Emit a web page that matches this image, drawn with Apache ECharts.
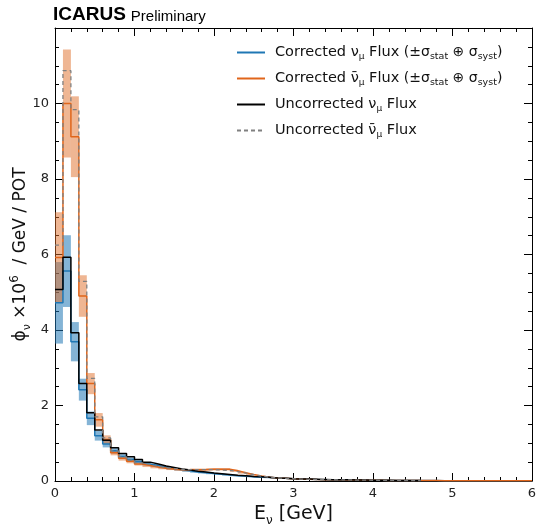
<!DOCTYPE html>
<html><head><meta charset="utf-8">
<script src="https://cdn.jsdelivr.net/npm/echarts@6/dist/echarts.min.js"></script>
<style>html,body{margin:0;padding:0;background:#fff}#c{width:537px;height:524px}</style>
</head><body><div id="c"></div>
<script>
// Binning: 0.1 GeV wide bins starting at 0
const binLow = 0;
const binWidth = 0.1;
const xTickLabels = ['0', '1', '2', '3', '4', '5', '6'];
const yTickLabels = ['0', '2', '4', '6', '8', '10'];

// Corrected nu_mu flux (x1e6 / GeV / POT) and its uncertainty
const corrNu = [4.72, 5.56, 3.69, 2.42, 1.66, 1.20, 0.98, 0.80, 0.65, 0.57,
  0.51, 0.45, 0.41, 0.37, 0.33, 0.30, 0.27, 0.24, 0.22, 0.20,
  0.18, 0.16, 0.14, 0.13, 0.11, 0.10, 0.09, 0.08, 0.07, 0.06,
  0.05, 0.045, 0.04, 0.036, 0.033, 0.03, 0.027, 0.025, 0.022, 0.02,
  0.018, 0.016, 0.015, 0.013, 0.012, 0.011, 0.01, 0.01, 0.009, 0.009,
  0.008, 0.008, 0.007, 0.007, 0.006, 0.006, 0.006, 0.005, 0.005, 0.005];
const corrNuErr = [1.08, 0.95, 0.52, 0.29, 0.18, 0.13, 0.09, 0.07, 0.06, 0.05,
  0.045, 0.04, 0.035, 0.03, 0.03, 0.025, 0.025, 0.02, 0.02, 0.02,
  0.018, 0.016, 0.014, 0.013, 0.012, 0.011, 0.01, 0.01, 0.009, 0.008,
  0.008, 0.007, 0.007, 0.006, 0.006, 0.006, 0.005, 0.005, 0.005, 0.004,
  0.004, 0.004, 0.004, 0.003, 0.003, 0.003, 0.003, 0.003, 0.003, 0.003,
  0.003, 0.003, 0.003, 0.003, 0.003, 0.003, 0.003, 0.003, 0.003, 0.003];

// Corrected anti-nu_mu flux and its uncertainty
const corrNubar = [5.92, 10.0, 9.12, 4.90, 2.58, 1.62, 1.10, 0.75, 0.60, 0.52,
  0.45, 0.41, 0.37, 0.34, 0.32, 0.30, 0.29, 0.30, 0.30, 0.31,
  0.31, 0.31, 0.27, 0.22, 0.17, 0.13, 0.10, 0.08, 0.07, 0.06,
  0.05, 0.045, 0.04, 0.036, 0.033, 0.03, 0.028, 0.025, 0.022, 0.02,
  0.018, 0.016, 0.015, 0.013, 0.012, 0.011, 0.01, 0.01, 0.009, 0.009,
  0.008, 0.008, 0.007, 0.007, 0.006, 0.006, 0.006, 0.005, 0.005, 0.005];
const corrNubarErr = [1.2, 1.43, 1.07, 0.55, 0.28, 0.18, 0.11, 0.07, 0.06, 0.05,
  0.04, 0.04, 0.035, 0.03, 0.03, 0.03, 0.03, 0.03, 0.03, 0.03,
  0.03, 0.03, 0.03, 0.025, 0.02, 0.018, 0.015, 0.012, 0.01, 0.01,
  0.008, 0.008, 0.007, 0.007, 0.006, 0.006, 0.005, 0.005, 0.005, 0.004,
  0.004, 0.004, 0.004, 0.003, 0.003, 0.003, 0.003, 0.003, 0.003, 0.003,
  0.003, 0.003, 0.003, 0.003, 0.003, 0.003, 0.003, 0.003, 0.003, 0.003];

// Uncorrected fluxes (histograms end at 4.6 GeV)
const uncorrNu = [5.07, 5.93, 3.93, 2.58, 1.81, 1.35, 1.08, 0.88, 0.73, 0.64,
  0.57, 0.50, 0.45, 0.40, 0.36, 0.32, 0.29, 0.26, 0.24, 0.21,
  0.19, 0.17, 0.15, 0.14, 0.12, 0.11, 0.10, 0.08, 0.07, 0.06,
  0.055, 0.05, 0.045, 0.04, 0.035, 0.032, 0.03, 0.027, 0.025, 0.022,
  0.02, 0.018, 0.016, 0.015, 0.013, 0.012];
const uncorrNubar = [6.25, 10.87, 9.84, 5.29, 2.72, 1.70, 1.14, 0.80, 0.64, 0.55,
  0.48, 0.43, 0.39, 0.35, 0.33, 0.31, 0.30, 0.30, 0.30, 0.30,
  0.29, 0.28, 0.25, 0.21, 0.17, 0.13, 0.10, 0.08, 0.07, 0.06,
  0.05, 0.045, 0.04, 0.036, 0.033, 0.03, 0.028, 0.025, 0.022, 0.02,
  0.018, 0.016, 0.015, 0.013, 0.012, 0.011];

function stepData(vals) {
  const out = [];
  for (let i = 0; i < vals.length; i++) {
    const x0 = binLow + i * binWidth;
    out.push([x0, vals[i]]);
    if (i === vals.length - 1) out.push([x0 + binWidth, vals[i]]);
  }
  return out;
}
function bandData(vals, errs) {
  return vals.map((v, i) => {
    const x0 = binLow + i * binWidth;
    return [x0, x0 + binWidth, v - errs[i], v + errs[i]];
  });
}
function bandSeries(name, vals, errs, fill) {
  return {
    type: 'custom', name: name, silent: true, clip: true,
    encode: { x: [0, 1], y: [2, 3] },
    data: bandData(vals, errs),
    renderItem: function (params, api) {
      const a = api.coord([api.value(0), api.value(3)]);
      const b = api.coord([api.value(1), api.value(2)]);
      return { type: 'rect', shape: { x: a[0], y: a[1], width: b[0] - a[0], height: b[1] - a[1] },
        style: { fill: fill } };
    },
    z: 1
  };
}

const F = 'DejaVu Sans';
const names = ['Corrected νμ Flux', 'Corrected ν̄μ Flux', 'Uncorrected νμ Flux', 'Uncorrected ν̄μ Flux'];
const legendText = {};
legendText[names[0]] = '{p|Corrected ν}{s|μ}{n| Flux }{m|(±σ}{ms|stat}{m| ⊕ σ}{ms|syst}{m|)}';
legendText[names[1]] = '{p|Corrected ν̄}{s|μ}{n| Flux }{m|(±σ}{ms|stat}{m| ⊕ σ}{ms|syst}{m|)}';
legendText[names[2]] = '{p|Uncorrected ν}{s|μ}{n| Flux}';
legendText[names[3]] = '{p|Uncorrected ν̄}{s|μ}{n| Flux}';

const blue = '#1f77b4', orange = '#e0651a';
const axisCommon = {
  axisLine: { show: true, onZero: false, lineStyle: { color: '#000', width: 1 } },
  axisTick: { show: true, inside: true, length: 8, lineStyle: { color: '#000', width: 1 } },
  minorTick: { show: true, length: 4, lineStyle: { color: '#000', width: 1 } },
  splitLine: { show: false }
};
function xAx(pos, showLabel) {
  return Object.assign({}, axisCommon, {
    type: 'value', position: pos, min: 0, max: 6, interval: 1,
    minorTick: Object.assign({}, axisCommon.minorTick, { splitNumber: 5 }),
    axisLabel: { show: showLabel, formatter: v => xTickLabels[Math.round(v)], fontFamily: F, fontSize: 13, color: '#222', margin: 6 },
  });
}
function yAx(pos, showLabel) {
  return Object.assign({}, axisCommon, {
    type: 'value', position: pos, min: 0, max: 12, interval: 2,
    minorTick: Object.assign({}, axisCommon.minorTick, { splitNumber: 4 }),
    axisLabel: { show: showLabel, showMaxLabel: false, formatter: v => (yTickLabels[Math.round(v / 2)] || ''), fontFamily: F, fontSize: 13, color: '#222', margin: 6 },
  });
}
const xAxes = [xAx('bottom', true), xAx('top', false)];
xAxes[0].name = '{n|E}{s|ν}{n| [GeV]}';
xAxes[0].nameLocation = 'middle';
xAxes[0].nameGap = 19;
xAxes[0].nameTextStyle = { rich: {
  n: { fontFamily: F, fontSize: 19, color: '#111', lineHeight: 24 },
  s: { fontFamily: F, fontSize: 12, color: '#111', lineHeight: 14, verticalAlign: 'bottom' } } };
const yAxes = [yAx('left', true), yAx('right', false)];
yAxes[0].name = '{n|ϕ}{s|ν}{n| ×10}{u|6}{n|  / GeV / POT}';
yAxes[0].nameLocation = 'middle';
yAxes[0].nameRotate = 90;
yAxes[0].nameGap = 22;
yAxes[0].nameMoveOverlap = false;
yAxes[0].nameTextStyle = { rich: {
  n: { fontFamily: F, fontSize: 17, color: '#111', lineHeight: 24 },
  s: { fontFamily: F, fontSize: 11, color: '#111', lineHeight: 12, verticalAlign: 'bottom' },
  u: { fontFamily: F, fontSize: 12, color: '#111', lineHeight: 13, verticalAlign: 'top' } } };

const chart = echarts.init(document.getElementById('c'), null, { renderer: 'canvas' });
chart.setOption({
  animation: false,
  backgroundColor: '#fff',
  title: {
    text: '{b|ICARUS} {r|Preliminary}', left: 53, top: 0, padding: 0,
    textStyle: { rich: {
      b: { fontFamily: 'Liberation Sans', fontWeight: 'bold', fontSize: 19, color: '#000', lineHeight: 24, verticalAlign: 'bottom' },
      r: { fontFamily: 'Liberation Sans', fontWeight: 'normal', fontSize: 15, color: '#000', lineHeight: 21, verticalAlign: 'bottom' } } }
  },
  grid: { left: 55, right: 5, top: 28, bottom: 43, containLabel: false, outerBoundsMode: 'none' },
  xAxis: xAxes,
  yAxis: yAxes,
  legend: {
    orient: 'vertical', left: 231, top: 40, itemGap: 9.5, itemWidth: 28, itemHeight: 14,
    data: names,
    itemStyle: { opacity: 0 },
    formatter: name => legendText[name],
    textStyle: { fontFamily: F, fontSize: 14, color: '#111', rich: {
      p: { fontFamily: F, fontSize: 14.5, color: '#111', lineHeight: 18, padding: [0, 0, 0, 5] },
      n: { fontFamily: F, fontSize: 14.5, color: '#111', lineHeight: 18 },
      s: { fontFamily: F, fontSize: 9, color: '#111', lineHeight: 10, verticalAlign: 'bottom' },
      m: { fontFamily: F, fontSize: 14, color: '#111', lineHeight: 18 },
      ms: { fontFamily: F, fontSize: 9.5, color: '#111', lineHeight: 10, verticalAlign: 'bottom' } } }
  },
  series: [
    bandSeries('nu band', corrNu, corrNuErr, 'rgba(31,119,180,0.55)'),
    bandSeries('nubar band', corrNubar, corrNubarErr, 'rgba(224,110,40,0.5)'),
    { type: 'line', name: names[0], step: 'end', symbol: 'none', data: stepData(corrNu),
      lineStyle: { color: blue, width: 1.5 }, itemStyle: { color: blue }, z: 3 },
    { type: 'line', name: names[1], step: 'end', symbol: 'none', data: stepData(corrNubar),
      lineStyle: { color: orange, width: 1.5 }, itemStyle: { color: '#e8a070' }, z: 3 },
    { type: 'line', name: names[2], step: 'end', symbol: 'none', data: stepData(uncorrNu),
      lineStyle: { color: '#000', width: 1.5 }, itemStyle: { color: '#000' }, z: 4 },
    { type: 'line', name: names[3], step: 'end', symbol: 'none', data: stepData(uncorrNubar),
      lineStyle: { color: '#808080', width: 1.3, type: [4, 3] }, itemStyle: { color: '#808080' }, z: 4 }
  ]
});
</script></body></html>
